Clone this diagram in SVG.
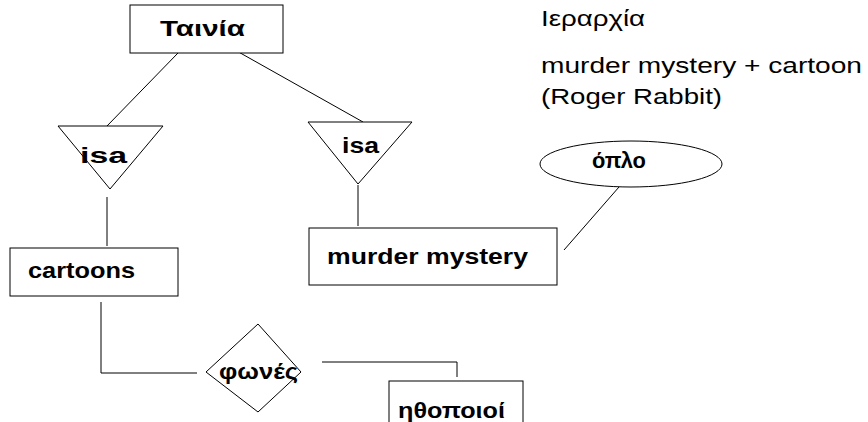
<svg xmlns="http://www.w3.org/2000/svg" width="868" height="422" viewBox="0 0 868 422">
<style>
.s{fill:#fff;stroke:#000;stroke-width:1}
.c{fill:none;stroke:#000;stroke-width:1}
.b{font-family:"Liberation Sans",Arial,sans-serif;font-weight:bold;font-size:22px;fill:#000}
.n{font-family:"Liberation Sans",Arial,sans-serif;font-size:22px;fill:#000}
</style>
<rect width="868" height="422" fill="#fff"/>
<g id="connectors">
<line class="c" x1="178" y1="53" x2="107" y2="126"/>
<line class="c" x1="235" y1="50" x2="363" y2="122"/>
<line class="c" x1="107" y1="197" x2="107" y2="246"/>
<line class="c" x1="358" y1="185" x2="358" y2="226"/>
<line class="c" x1="564" y1="250" x2="619" y2="187"/>
<polyline class="c" points="101,302 101,373 197,373" stroke="#666"/>
<polyline class="c" points="322,362 457,362 457,377"/>
</g>
<g id="tainia">
<rect class="s" x="130" y="5" width="153" height="48"/>
<text class="b" x="160" y="36" textLength="85" lengthAdjust="spacingAndGlyphs">Ταινία</text>
</g>
<g id="isa-left">
<polygon class="s" points="58,126 163,126 110,189"/>
<text class="b" x="80" y="163" textLength="47" lengthAdjust="spacingAndGlyphs">isa</text>
</g>
<g id="isa-right">
<polygon class="s" points="308,122 412,122 358,184"/>
<text class="b" x="342" y="153" textLength="37" lengthAdjust="spacingAndGlyphs">isa</text>
</g>
<g id="cartoons">
<rect class="s" x="10" y="248" width="168" height="48"/>
<text class="b" x="28" y="278" textLength="107" lengthAdjust="spacingAndGlyphs">cartoons</text>
</g>
<g id="murder-mystery">
<rect class="s" x="309" y="228" width="248" height="57"/>
<text class="b" x="327" y="264" textLength="201" lengthAdjust="spacingAndGlyphs">murder mystery</text>
</g>
<g id="oplo">
<ellipse class="s" cx="631" cy="164" rx="91" ry="23"/>
<text class="b" x="592" y="168" textLength="54" lengthAdjust="spacingAndGlyphs">όπλο</text>
</g>
<g id="fones">
<polygon class="s" points="206,372 258,324 301,372 258,412"/>
<text class="b" x="219" y="379" textLength="79" lengthAdjust="spacingAndGlyphs">φωνές</text>
</g>
<g id="ithopoioi">
<rect class="s" x="389" y="381" width="134" height="50"/>
<text class="b" x="398" y="418" textLength="107" lengthAdjust="spacingAndGlyphs">ηθοποιοί</text>
</g>
<g id="notes">
<text class="n" x="541" y="26" textLength="104" lengthAdjust="spacingAndGlyphs">Ιεραρχία</text>
<text class="n" x="541" y="73" textLength="321" lengthAdjust="spacingAndGlyphs">murder mystery + cartoon</text>
<text class="n" x="541" y="104" textLength="181" lengthAdjust="spacingAndGlyphs">(Roger Rabbit)</text>
</g>
</svg>
